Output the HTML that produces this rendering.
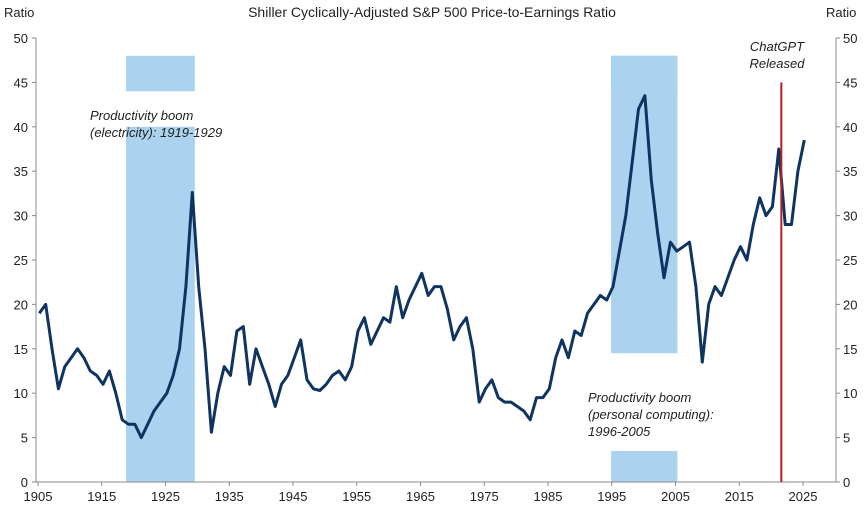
<!DOCTYPE html>
<html><head><meta charset="utf-8"><style>
body{margin:0;background:#fff;font-family:"Liberation Sans",sans-serif}
svg text{font-family:"Liberation Sans",sans-serif;fill:#222}
</style></head><body>
<svg id="c" width="865" height="510" viewBox="0 0 865 510" xmlns="http://www.w3.org/2000/svg">
<text x="432" y="17" font-size="14" text-anchor="middle">Shiller Cyclically-Adjusted S&amp;P 500 Price-to-Earnings Ratio</text>
<text x="4" y="17" font-size="13">Ratio</text>
<text x="826" y="17" font-size="13">Ratio</text>
<g id="shade"></g>
<g id="axes"></g>
<path id="line" fill="none" stroke="#0f3460" stroke-width="3" stroke-linejoin="round"/>
<line id="gpt" stroke="#b22222" stroke-width="2"/>
<text x="777" y="51" font-size="13" font-style="italic" text-anchor="middle">ChatGPT</text>
<text x="777" y="68" font-size="13" font-style="italic" text-anchor="middle">Released</text>
<text x="90" y="120" font-size="13" font-style="italic">Productivity boom</text>
<text x="90" y="137" font-size="13" font-style="italic">(electricity): 1919-1929</text>
<text x="588" y="402" font-size="13" font-style="italic">Productivity boom</text>
<text x="588" y="419" font-size="13" font-style="italic">(personal computing):</text>
<text x="588" y="436" font-size="13" font-style="italic">1996-2005</text>
</svg>
<script>
const years=[];for(let y=1905;y<=2025;y++)years.push(y);
const cape=[19,20,15,10.5,13,14,15,14,12.5,12,11,12.5,10,7,6.5,6.5,5,6.5,8,9,10,12,15,22,32.6,22,15,5.6,10,13,12,17,17.5,11,15,13,11,8.5,11,12,14,16,11.5,10.5,10.3,11,12,12.5,11.5,13,17,18.5,15.5,17,18.5,18,22,18.5,20.5,22,23.5,21,22,22,19.5,16,17.5,18.5,15,9,10.5,11.5,9.5,9,9,8.5,8,7,9.5,9.5,10.5,14,16,14,17,16.5,19,20,21,20.5,22,26,30,36,42,43.5,34,28,23,27,26,26.5,27,22,13.5,20,22,21,23,25,26.5,25,29,32,30,31,37.5,29,29,35,38.5];
const yTicks=[0,5,10,15,20,25,30,35,40,45,50];
const xTicks=[1905,1915,1925,1935,1945,1955,1965,1975,1985,1995,2005,2015,2025];
const booms=[[1918.8,1929.6],[1994.9,2005.3]];
const gptYear=2021.6;
const X=y=>38+(y-1905)*6.375, Y=v=>482-v*8.88;
const NS="http://www.w3.org/2000/svg",svg=document.getElementById('c');
function mk(t,a,p){const e=document.createElementNS(NS,t);for(const k in a)e.setAttribute(k,a[k]);(p||svg).appendChild(e);return e;}
const sh=document.getElementById('shade'),ax=document.getElementById('axes');
booms.forEach((b,i)=>{
 const x=X(b[0]),w=X(b[1])-X(b[0]);
 let r=mk('rect',{x:x,y:Y(48),width:w,height:Y(44)-Y(48),fill:'#abd2ee'},sh);
 
 
 let r2=mk('rect',{x:x,y:i==0?Y(40):Y(48),width:w,height:i==0?Y(0)-Y(40):Y(14.5)-Y(48),fill:'#abd2ee'},sh);
 
 
 if(i==1){let r3=mk('rect',{x:x,y:Y(3.5),width:w,height:Y(0)-Y(3.5),fill:'#abd2ee'},sh);
 
 }
});
mk('line',{x1:36,y1:Y(50),x2:36,y2:Y(0),stroke:'#888'},ax);
mk('line',{x1:836,y1:Y(50),x2:836,y2:Y(0),stroke:'#888'},ax);
mk('line',{x1:36,y1:Y(0),x2:836,y2:Y(0),stroke:'#888'},ax);
yTicks.forEach(v=>{
 mk('line',{x1:32,x2:36,y1:Y(v),y2:Y(v),stroke:'#888'},ax);
 mk('line',{x1:836,x2:840,y1:Y(v),y2:Y(v),stroke:'#888'},ax);
 let t=mk('text',{x:28,y:Y(v)+5,'font-size':13,'text-anchor':'end'},ax);t.textContent=v;
 
 
 let t2=mk('text',{x:843,y:Y(v)+5,'font-size':13},ax);t2.textContent=v;
 
 
});
xTicks.forEach(y=>{
 mk('line',{x1:X(y),x2:X(y),y1:Y(0),y2:Y(0)+4,stroke:'#888'},ax);
 let t=mk('text',{x:X(y),y:501,'font-size':13,'text-anchor':'middle'},ax);t.textContent=y;
 
 
});
document.getElementById('line').setAttribute('d',years.map((y,i)=>(i?'L':'M')+X(y+0.2).toFixed(1)+','+Y(cape[i]).toFixed(1)).join(''));
const g=document.getElementById('gpt');g.setAttribute('x1',X(gptYear));g.setAttribute('x2',X(gptYear));g.setAttribute('y1',Y(45));g.setAttribute('y2',Y(0));
</script>
</body></html>
